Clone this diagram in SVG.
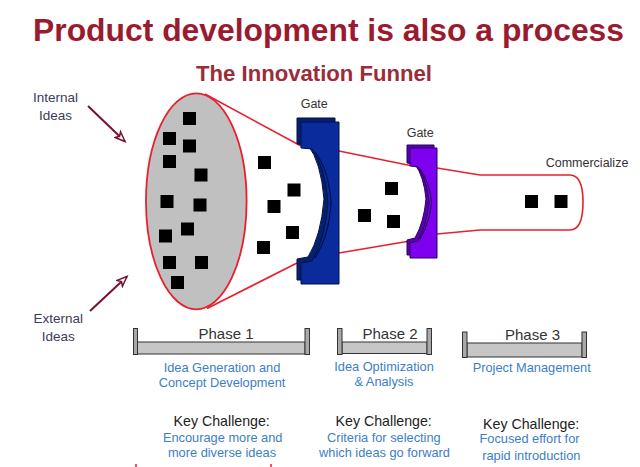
<svg xmlns="http://www.w3.org/2000/svg" width="640" height="467" viewBox="0 0 640 467">
<defs>
<style>
.t{font-family:"Liberation Sans",Arial,sans-serif}
.title{font-weight:bold;fill:#9a1b2f}
.lbl{fill:#3c3c58;font-size:13.5px}
.small{fill:#333;font-size:12.5px}
.ph{fill:#333;font-size:15px}
.blue{fill:#3d7ec6;font-size:12.8px}
.kc{fill:#222;font-size:14.2px}
.funnel{fill:none;stroke:#e8202e;stroke-width:1.6}
.sq{fill:#000}
.post{fill:#a8a8a8;stroke:#333;stroke-width:1}
.bar{fill:#c6c6c6;stroke:#333;stroke-width:1}
.arr{stroke:#7a1030;stroke-width:2;fill:none}
</style>
<marker id="ah" markerWidth="14" markerHeight="12" refX="11" refY="5" orient="auto" markerUnits="userSpaceOnUse">
<path d="M1,1 L11,5 L1,9 L3.5,5 Z" fill="#fff" stroke="#7a1030" stroke-width="1.5"/>
</marker>
</defs>
<rect width="640" height="467" fill="#fff"/>
<text class="t title" x="33" y="40.7" font-size="32" textLength="591" lengthAdjust="spacingAndGlyphs">Product development is also a process</text>
<text class="t title" x="196" y="81" font-size="21.5" fill="#9c2c38" style="fill:#9c2c38" textLength="236" lengthAdjust="spacingAndGlyphs">The Innovation Funnel</text>

<g id="internal-ideas">
<text class="t lbl" x="55.5" y="101.7" text-anchor="middle">Internal</text>
<text class="t lbl" x="55.5" y="120" text-anchor="middle">Ideas</text>
</g>
<g id="external-ideas">
<text class="t lbl" x="58.3" y="323.3" text-anchor="middle">External</text>
<text class="t lbl" x="58.3" y="341" text-anchor="middle">Ideas</text>
</g>

<g id="connectors">
<path class="arr" d="M88,106 L125,141.5" marker-end="url(#ah)"/>
<path class="arr" d="M90,311 L127,276.5" marker-end="url(#ah)"/>
</g>

<g id="funnel">
<ellipse cx="196.3" cy="201.3" rx="50.3" ry="108" fill="#c0c0c0" stroke="#e8202e" stroke-width="1.8"/>
<path class="funnel" d="M205,94 L301,146"/>
<path class="funnel" d="M207,308.5 L301,261"/>
<path class="funnel" d="M339,151 L410,165.5"/>
<path class="funnel" d="M339,253 L410,241"/>
<path class="funnel" d="M437,168 L480,175 H570 Q583,175 583,202 Q583,230 570,230 H480 L437,234"/>
</g>

<g id="ideas">
<rect class="sq" x="183" y="112" width="13" height="13"/>
<rect class="sq" x="163" y="132" width="13" height="13"/>
<rect class="sq" x="183" y="139.5" width="13" height="13"/>
<rect class="sq" x="163" y="155" width="13" height="13"/>
<rect class="sq" x="194.5" y="168.5" width="13" height="13"/>
<rect class="sq" x="160.5" y="195" width="13" height="13"/>
<rect class="sq" x="193.5" y="198.5" width="13" height="13"/>
<rect class="sq" x="181" y="222.5" width="13" height="13"/>
<rect class="sq" x="159" y="229.5" width="13" height="13"/>
<rect class="sq" x="163" y="256" width="13" height="13"/>
<rect class="sq" x="195" y="256" width="13" height="13"/>
<rect class="sq" x="171" y="276" width="13" height="13"/>
<rect class="sq" x="258" y="156" width="13" height="13"/>
<rect class="sq" x="287.5" y="183.5" width="13" height="13"/>
<rect class="sq" x="267.5" y="200" width="13" height="13"/>
<rect class="sq" x="286" y="226" width="13" height="13"/>
<rect class="sq" x="257" y="241" width="13" height="13"/>
<rect class="sq" x="385" y="182" width="13" height="13"/>
<rect class="sq" x="358" y="209" width="13" height="13"/>
<rect class="sq" x="387" y="215" width="13" height="13"/>
<rect class="sq" x="525" y="195" width="13" height="13"/>
<rect class="sq" x="554.5" y="195" width="13" height="13"/>
</g>

<g id="gate1">
<path d="M297,118 L335,118 L335,280 L297,280 L297,259 L308,257 Q321,236 324,199 Q321,162 308,145 L297,144 Z" fill="#06206e" stroke="#00103f" stroke-width="1"/>
<path d="M301,122 L339,122 L339,284 L301,284 L301,263 L312,261 Q325,240 328,203 Q325,166 312,149 L301,148 Z" fill="#0a2b9c" stroke="#00104a" stroke-width="1"/>
<path d="M315,152 Q329,170 331,203 Q329,236 315,258" fill="none" stroke="#00104a" stroke-width="1.2"/>
<text class="t small" x="300.7" y="108.3">Gate</text>
</g>

<g id="gate2">
<path d="M407,145 L434,145 L434,255 L407,255 L407,240 L415,238 Q424,222 426,199 Q424,177 415,164 L407,163 Z" fill="#5a00b0" stroke="#2a0060" stroke-width="1"/>
<path d="M410,148 L437,148 L437,258 L410,258 L410,243 L418,241 Q427,225 429,202 Q427,180 418,167 L410,166 Z" fill="#7d00ee" stroke="#2a0060" stroke-width="1"/>
<path d="M420,169 Q430,183 431.5,202 Q430,222 420,239" fill="none" stroke="#2a0060" stroke-width="1.1"/>
<text class="t small" x="406.7" y="136.7">Gate</text>
</g>

<g id="commercialize">
<text class="t small" x="545.7" y="167.3">Commercialize</text>
</g>

<g id="phase1">
<rect class="bar" x="137" y="342" width="168" height="12"/>
<rect class="post" x="133.5" y="328.5" width="4" height="26"/>
<rect class="post" x="305" y="328.5" width="4.5" height="26"/>
<text class="t ph" x="226" y="339" text-anchor="middle">Phase 1</text>
<text class="t blue" x="222" y="372" text-anchor="middle">Idea Generation and</text>
<text class="t blue" x="222" y="387.3" text-anchor="middle">Concept Development</text>
<text class="t kc" x="221.7" y="425.7" text-anchor="middle">Key Challenge:</text>
<text class="t blue" x="222.7" y="441.7" text-anchor="middle">Encourage more and</text>
<text class="t blue" x="222" y="457.3" text-anchor="middle">more diverse ideas</text>
</g>

<g id="phase2">
<rect class="bar" x="342" y="342" width="85" height="11.5"/>
<rect class="post" x="337.5" y="328.5" width="4.5" height="26"/>
<rect class="post" x="427" y="328.5" width="4.5" height="26"/>
<text class="t ph" x="390" y="338.5" text-anchor="middle">Phase 2</text>
<text class="t blue" x="384" y="370.7" text-anchor="middle">Idea Optimization</text>
<text class="t blue" x="384" y="386" text-anchor="middle">&amp; Analysis</text>
<text class="t kc" x="383.7" y="425.7" text-anchor="middle">Key Challenge:</text>
<text class="t blue" x="383.8" y="441.7" text-anchor="middle">Criteria for selecting</text>
<text class="t blue" x="384.5" y="457.3" text-anchor="middle">which ideas go forward</text>
</g>

<g id="phase3">
<rect class="bar" x="467" y="343" width="115" height="14"/>
<rect class="post" x="462.5" y="332" width="4.5" height="25.5"/>
<rect class="post" x="582" y="332" width="4.5" height="25.5"/>
<text class="t ph" x="532.5" y="339.5" text-anchor="middle">Phase 3</text>
<text class="t blue" x="531.7" y="371.7" text-anchor="middle">Project Management</text>
<text class="t kc" x="531.2" y="429" text-anchor="middle">Key Challenge:</text>
<text class="t blue" x="529.5" y="443.3" text-anchor="middle">Focused effort for</text>
<text class="t blue" x="531.3" y="460" text-anchor="middle">rapid introduction</text>
</g>

<g id="fragments">
<path d="M136,464 V467 M271,464 V467" stroke="#e8202e" stroke-width="1.5"/>
</g>
</svg>
